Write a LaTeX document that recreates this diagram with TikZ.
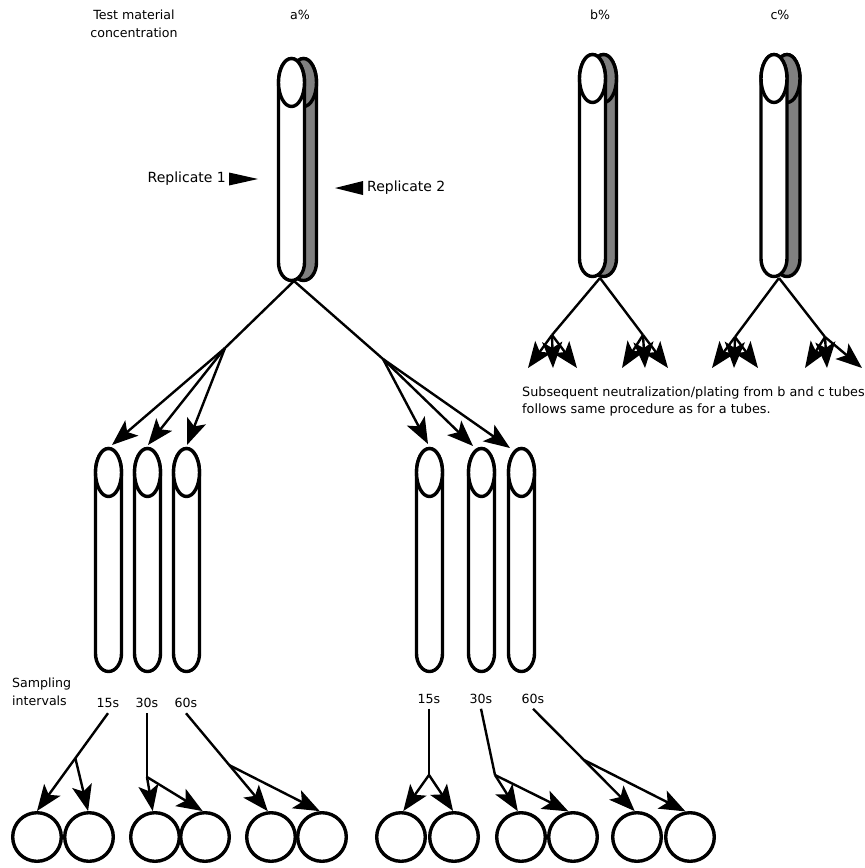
\documentclass[tikz,border=0pt]{standalone}
\usepackage{fontspec}
\setmainfont{DejaVu Sans}
\usetikzlibrary{arrows.meta,calc}
\definecolor{tubegray}{RGB}{128,128,128}
\tikzset{
  tubeline/.style={line width=3.4pt, line join=round},
  conn/.style={line width=2.4pt},
  arr/.style={conn, -{Stealth[length=26pt,width=20pt,inset=6pt]}},
  lbl/.style={font=\fontsize{12.6}{18}\selectfont, inner sep=0pt},
  replbl/.style={font=\fontsize{14}{18}\selectfont, inner sep=0pt},
  ivl/.style={lbl, outer sep=5.5pt},
  dish/.style={circle, draw, line width=3.4pt, minimum size=48.6pt, inner sep=0pt},
}
\newcommand{\tubeat}[4]{%
  \filldraw[tubeline, fill=#4] (#1,#2+24) -- (#1,#3-18)
    arc[start angle=180,end angle=360,x radius=13pt,y radius=18pt]
    -- (#1+26,#2+24) arc[start angle=0,end angle=180,x radius=13pt,y radius=24pt] -- cycle;
  \filldraw[tubeline, fill=#4] (#1+13,#2+24) ellipse[x radius=13pt,y radius=24pt];
}
\begin{document}
\begin{tikzpicture}[x=1pt,y=-1pt]
\useasboundingbox (0,0) rectangle (865,868);

% ---------- labels at top ----------
\node[lbl, align=center] (tmc) at (134,24) {Test material\\concentration};
\node[lbl] (pa) at (300,15) {a\%};
\node[lbl] (pb) at (600,15) {b\%};
\node[lbl] (pc) at (780,15) {c\%};

% ---------- replicate tubes ----------
\tubeat{290.5}{58.5}{280.5}{tubegray}
\tubeat{278.5}{58.5}{280.5}{white}
\tubeat{590.5}{54.5}{276.5}{tubegray}
\tubeat{579.5}{54.5}{276.5}{white}
\tubeat{774}{54.5}{276.5}{tubegray}
\tubeat{761}{54.5}{276.5}{white}

\node[replbl, anchor=east] (rep1) at (226,179) {Replicate 1};
\fill ($(rep1.east)+(3,-6.5)$) -- ($(rep1.east)+(3,6.5)$) -- ($(rep1.east)+(32,0)$) -- cycle;
\node[replbl, anchor=west] (rep2) at (367,188) {Replicate 2};
\fill ($(rep2.west)+(-4,-7)$) -- ($(rep2.west)+(-4,7)$) -- ($(rep2.west)+(-32,0)$) -- cycle;

% ---------- sampling tubes ----------
\tubeat{95.5}{448.5}{671.5}{white}
\tubeat{134.5}{448.5}{671.5}{white}
\tubeat{173.5}{448.5}{671.5}{white}
\tubeat{416.5}{448.5}{671.5}{white}
\tubeat{468.5}{448.5}{671.5}{white}
\tubeat{508.5}{448.5}{671.5}{white}

% ---------- coordinates ----------
\coordinate (aj) at (294,281);
\coordinate (aL) at (225,348);
\coordinate (aR) at (383,359);
\coordinate (t1in) at (112,445);
\coordinate (t2in) at (148,445);
\coordinate (t3in) at (187,445);
\coordinate (t4in) at (428,444);
\coordinate (t5in) at (473,446);
\coordinate (t6in) at (510,448);

\coordinate (bj) at (600,278);
\coordinate (bL) at (552,335);
\coordinate (bR) at (643,335);
\coordinate (bL1) at (528,368);
\coordinate (bL2) at (553,368);
\coordinate (bL3) at (577,368);
\coordinate (bR1) at (622,368);
\coordinate (bR2) at (645,368);
\coordinate (bR3) at (668,368);

\coordinate (cj) at (779,278);
\coordinate (cL) at (735,337);
\coordinate (cR) at (825,337);
\coordinate (cL1) at (712,368);
\coordinate (cL2) at (734,368);
\coordinate (cL3) at (758,368);
\coordinate (cR1) at (805,368);
\coordinate (cR2) at (827,368);
\coordinate (cR3) at (862,368);

% ---------- main fan ----------
\draw[conn] (aj) -- (aL);
\draw[conn] (aj) -- (aR);
\foreach \t in {t1in,t2in,t3in} \draw[arr] (aL) -- (\t);
\foreach \t in {t4in,t5in,t6in} \draw[arr] (aR) -- (\t);

% ---------- b and c fans ----------
\draw[conn] (bj) -- (bL);
\draw[conn] (bj) -- (bR);
\foreach \t in {bL1,bL2,bL3} \draw[arr] (bL) -- (\t);
\foreach \t in {bR1,bR2,bR3} \draw[arr] (bR) -- (\t);
\draw[conn] (cj) -- (cL);
\draw[conn] (cj) -- (cR);
\foreach \t in {cL1,cL2,cL3} \draw[arr] (cL) -- (\t);
\foreach \t in {cR1,cR2,cR3} \draw[arr] (cR) -- (\t);

\node[lbl, font=\fontsize{12.8}{17}\selectfont, align=left, anchor=west] (note) at (522,401.5)
  {Subsequent neutralization/plating from b and c tubes\\follows same procedure as for a tubes.};

% ---------- sampling intervals ----------
\node[lbl, align=left, anchor=west] (samp) at (12,692) {Sampling\\intervals};
\node[ivl] (l15a) at (108,703) {15s};
\node[ivl] (l30a) at (147,703) {30s};
\node[ivl] (l60a) at (186,703) {60s};
\node[ivl] (l15b) at (429,698.5) {15s};
\node[ivl] (l30b) at (481,698.5) {30s};
\node[ivl] (l60b) at (533,698.5) {60s};

% ---------- plates ----------
\node[dish] (c1) at (37,837) {};
\node[dish] (c2) at (89,837) {};
\node[dish] (c3) at (155,837) {};
\node[dish] (c4) at (205,837) {};
\node[dish] (c5) at (271,837) {};
\node[dish] (c6) at (322,837) {};
\node[dish] (c7) at (401,837) {};
\node[dish] (c8) at (454,837) {};
\node[dish] (c9) at (521,837) {};
\node[dish] (c10) at (573,837) {};
\node[dish] (c11) at (637,837) {};
\node[dish] (c12) at (690,837) {};

% left group
\coordinate (k15a) at ($(l15a.south)!0.46!(c1.90)$);
\draw[arr] (l15a.south) -- (c1.90);
\draw[arr] (k15a) -- (c2.92);
\coordinate (k30a) at (147,777);
\draw[conn] (l30a.south) -- (k30a);
\draw[arr] (k30a) -- (c3.95);
\draw[arr] (k30a) -- (c4.95);
\coordinate (k60a) at ($(l60a.south)!0.53!(c5.97)$);
\draw[arr] (l60a.south) -- (c5.97);
\draw[arr] (k60a) -- (c6.95);

% right group
\coordinate (k15b) at (429,775);
\draw[conn] (l15b.south) -- (k15b);
\draw[arr] (k15b) -- (c7.85);
\draw[arr] (k15b) -- (c8.92);
\coordinate (k30b) at (495,775);
\draw[conn] (l30b.south) -- (k30b);
\draw[arr] (k30b) -- (c9.97);
\draw[arr] (k30b) -- (c10.100);
\coordinate (k60b) at ($(l60b.south)!0.5!(c11.95)$);
\draw[arr] (l60b.south) -- (c11.95);
\draw[arr] (k60b) -- (c12.100);
\end{tikzpicture}
\end{document}
